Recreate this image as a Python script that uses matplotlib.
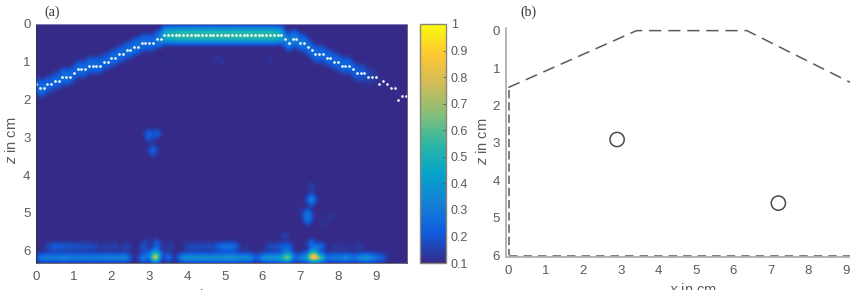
import numpy as np
import matplotlib
matplotlib.use('Agg')
import matplotlib.pyplot as plt
from matplotlib.colors import LinearSegmentedColormap
from matplotlib.patches import Circle

plt.rcParams['font.family'] = ['Liberation Sans', 'DejaVu Sans']
plt.rcParams['mathtext.fontset'] = 'custom'
plt.rcParams['mathtext.it'] = 'Liberation Sans:italic'
plt.rcParams['mathtext.rm'] = 'Liberation Sans'

W, H = 850, 290
GREY = '#5a5a5a'

# reconstruction grid, one cell per 1 mm
x_cells = [i / 10 for i in range(99)]
z_cells = [i / 10 for i in range(64)]

# detected surface depth for each column (cm)
surface_z = [1.6, 1.7, 1.7, 1.6, 1.6, 1.5, 1.5, 1.4, 1.4, 1.4,
             1.3, 1.2, 1.2, 1.2, 1.1, 1.1, 1.1, 1.1, 1.0, 1.0,
             0.9, 0.9, 0.8, 0.8, 0.7, 0.7, 0.6, 0.6, 0.5, 0.5,
             0.5, 0.5, 0.4, 0.4, 0.3, 0.3, 0.3, 0.3, 0.3, 0.3,
             0.3, 0.3, 0.3, 0.3, 0.3, 0.3, 0.3, 0.3, 0.3, 0.3,
             0.3, 0.3, 0.3, 0.3, 0.3, 0.3, 0.3, 0.3, 0.3, 0.3,
             0.3, 0.3, 0.3, 0.3, 0.3, 0.3, 0.4, 0.5, 0.4, 0.4,
             0.5, 0.5, 0.6, 0.7, 0.8, 0.8, 0.8, 0.9, 0.9, 1.0,
             1.0, 1.1, 1.1, 1.1, 1.2, 1.3, 1.3, 1.3, 1.4, 1.4,
             1.4, 1.6, 1.5, 1.6, 1.7, 1.7, 2.0, 1.9, 1.9]

# reflection strength along the surface
surface_level = [0.22, 0.28, 0.28, 0.24, 0.24, 0.25, 0.25, 0.28, 0.28, 0.26,
                 0.24, 0.26, 0.26, 0.26, 0.26, 0.26, 0.26, 0.26, 0.24, 0.24,
                 0.26, 0.26, 0.26, 0.26, 0.27, 0.27, 0.28, 0.28, 0.28, 0.27,
                 0.26, 0.26, 0.28, 0.35, 0.50, 0.52, 0.55, 0.55, 0.56, 0.56,
                 0.56, 0.57, 0.57, 0.57, 0.56, 0.56, 0.57, 0.57, 0.56, 0.56,
                 0.57, 0.56, 0.56, 0.57, 0.57, 0.56, 0.56, 0.56, 0.57, 0.57,
                 0.56, 0.56, 0.56, 0.55, 0.52, 0.50, 0.33, 0.35, 0.34, 0.32,
                 0.30, 0.30, 0.28, 0.27, 0.27, 0.26, 0.26, 0.25, 0.25, 0.25,
                 0.25, 0.25, 0.25, 0.25, 0.24, 0.22, 0.22, 0.20, 0.17, 0.15,
                 0.13, 0.11, 0.11, 0.10, 0.10, 0.10, 0.10, 0.10, 0.10]

# strong band just above the lower boundary, z = 6.2 cm
bottom_row = [0.14, 0.33, 0.35, 0.38, 0.36, 0.35, 0.36, 0.38, 0.38, 0.36,
              0.35, 0.36, 0.37, 0.36, 0.35, 0.36, 0.37, 0.36, 0.36, 0.37,
              0.37, 0.36, 0.37, 0.40, 0.38, 0.22, 0.12, 0.14, 0.36, 0.38,
              0.20, 0.80, 0.95, 0.22, 0.15, 0.32, 0.20, 0.12, 0.30, 0.42,
              0.45, 0.44, 0.42, 0.44, 0.46, 0.44, 0.42, 0.44, 0.46, 0.44,
              0.45, 0.47, 0.46, 0.44, 0.42, 0.44, 0.42, 0.40, 0.24, 0.25,
              0.42, 0.46, 0.48, 0.47, 0.48, 0.55, 0.72, 0.80, 0.35, 0.25,
              0.36, 0.42, 0.48, 1.00, 1.00, 0.78, 0.58, 0.30, 0.34, 0.36,
              0.34, 0.36, 0.42, 0.36, 0.30, 0.34, 0.42, 0.46, 0.44, 0.40,
              0.34, 0.28, 0.24, 0.14, 0.10, 0.10, 0.10, 0.10, 0.10]

# weaker echo row above it, z = 5.9 cm
upper_row = [0.10, 0.10, 0.11, 0.17, 0.22, 0.24, 0.24, 0.23, 0.22, 0.21,
             0.21, 0.20, 0.20, 0.20, 0.19, 0.19, 0.17, 0.13, 0.15, 0.18,
             0.14, 0.18, 0.12, 0.15, 0.19, 0.14, 0.10, 0.10, 0.20, 0.20,
             0.10, 0.14, 0.28, 0.14, 0.10, 0.10, 0.16, 0.10, 0.10, 0.12,
             0.17, 0.19, 0.18, 0.20, 0.17, 0.20, 0.19, 0.18, 0.24, 0.28,
             0.32, 0.32, 0.30, 0.26, 0.14, 0.10, 0.14, 0.10, 0.10, 0.10,
             0.10, 0.16, 0.20, 0.19, 0.20, 0.24, 0.26, 0.26, 0.14, 0.10,
             0.10, 0.10, 0.12, 0.28, 0.30, 0.31, 0.26, 0.12, 0.10, 0.16,
             0.12, 0.14, 0.13, 0.12, 0.12, 0.14, 0.15, 0.12, 0.10, 0.10,
             0.10, 0.10, 0.10, 0.10, 0.10, 0.10, 0.10, 0.10, 0.10]

# isolated echoes from the two inclusions, stray spots and the hot spots' shoulders
blob_x = [3.0, 3.2, 3.0, 3.1, 3.1, 7.2, 7.3, 7.3, 7.2, 7.2, 7.3, 7.8, 6.6, 7.0, 7.6,
          2.9, 2.9, 3.2, 3.2, 3.5, 3.5, 6.7, 6.7, 7.3, 7.4, 7.1, 4.8, 4.9, 6.2, 3.5,
          3.1, 3.2, 7.3, 7.4, 6.6, 6.7]
blob_z = [2.9, 2.9, 3.0, 3.3, 3.4, 5.0, 4.6, 4.7, 5.1, 5.2, 4.3, 5.1, 5.6, 4.9, 5.3,
          5.8, 6.0, 5.8, 6.0, 5.9, 6.1, 6.0, 6.1, 5.8, 5.9, 6.1, 0.9, 1.0, 1.0, 1.0,
          6.1, 6.1, 6.1, 6.1, 6.1, 6.1]
blob_value = [0.27, 0.27, 0.26, 0.25, 0.24, 0.32, 0.34, 0.35, 0.33, 0.30, 0.17, 0.14, 0.17, 0.13, 0.13,
              0.18, 0.20, 0.24, 0.24, 0.14, 0.20, 0.22, 0.24, 0.28, 0.28, 0.22, 0.14, 0.14, 0.13, 0.12,
              0.55, 0.65, 0.75, 0.75, 0.45, 0.50]

# target outline and inclusions for the sketch
outline_top_x = [0.0, 3.42, 6.36, 9.15]
outline_top_z = [1.52, 0.0, 0.0, 1.4]
outline_left_x = [0.02, 0.02]
outline_left_z = [1.6, 6.0]
outline_bottom_x = [0.02, 9.15]
outline_bottom_z = [6.02, 6.02]
circle_x = [2.9, 7.2]
circle_z = [2.91, 4.61]

xticks = list(range(10))
zticks = list(range(7))
cbar_ticks = [0.1, 0.2, 0.3, 0.4, 0.5, 0.6, 0.7, 0.8, 0.9, 1]
cbar_labels = ['0.1', '0.2', '0.3', '0.4', '0.5', '0.6', '0.7', '0.8', '0.9', '1']

parula = LinearSegmentedColormap.from_list('parula_like', [
    '#352A87', '#0F5CDD', '#1481D6', '#06A4CA', '#2EB7A4',
    '#87BF77', '#D1BB59', '#FEC832', '#F9FB0E'])


def px_axes(left, top, right, bottom):
    return fig.add_axes([left / W, 1 - bottom / H, (right - left) / W, (bottom - top) / H])


def raise_cell(heat, r, c, v):
    if 0 <= r < heat.shape[0] and 0 <= c < heat.shape[1]:
        heat[r, c] = max(heat[r, c], v)


def build_heat():
    heat = np.full((len(z_cells), len(x_cells)), 0.1)
    for col, (z, level) in enumerate(zip(surface_z, surface_level)):
        row = int(round(z * 10))
        for offset, keep in [(-2, 0.5), (-1, 0.9), (0, 1.0), (1, 0.9), (2, 0.4)]:
            raise_cell(heat, row + offset, col, 0.1 + (level - 0.1) * keep)
    heat[62, :] = bottom_row
    heat[61, :] = 0.1 + (np.array(bottom_row) - 0.1) * 0.4
    heat[63, :] = 0.1 + (np.array(bottom_row) - 0.1) * 0.2
    heat[59, :] = upper_row
    heat[58, :] = 0.1 + (np.array(upper_row) - 0.1) * 0.4
    heat[60, :] = 0.1 + (np.array(upper_row) - 0.1) * 0.4
    for x, z, v in zip(blob_x, blob_z, blob_value):
        r, c = int(round(z * 10)), int(round(x * 10))
        raise_cell(heat, r, c, v)
        for dr, dc in [(-1, 0), (1, 0), (0, -1), (0, 1)]:
            raise_cell(heat, r + dr, c + dc, 0.1 + (v - 0.1) * 0.45)
    return heat


def style_ticks(ax):
    ax.tick_params(axis='x', labelsize=9.5, colors=GREY, length=0, pad=5.5)
    ax.tick_params(axis='y', labelsize=9.5, colors=GREY, length=0, pad=4)


fig = plt.figure(figsize=(W / 100, H / 100), dpi=100)

# (a) reconstruction
ax1 = px_axes(36, 24, 407, 263)
im = ax1.imshow(build_heat(), cmap=parula, vmin=0.1, vmax=1.0, aspect='auto',
                interpolation='bicubic', extent=[-0.05, 9.85, 6.35, -0.05])
ax1.plot(x_cells, surface_z, ls='none', marker='o', ms=1.9, mfc='white', mec='none', color='white')
ax1.set_xlim(0, 9.83)
ax1.set_ylim(6.33, 0)
ax1.set_xticks(xticks)
ax1.set_yticks(zticks)
style_ticks(ax1)
for s in ax1.spines.values():
    s.set_linewidth(0.5)
    s.set_color('#303030')
ax1.spines['top'].set_color('#a9a4c8')

fig.text(12 / W, 1 - 140 / H, r'$\mathit{z}$ in cm', rotation=90, ha='center', va='center',
         fontsize=10.5, color=GREY)
fig.text(52 / W, 1 - 12 / H, '(a)', family='Liberation Serif', ha='center', va='center',
         fontsize=10, color='#333333')
fig.text(212 / W, 1 - 296 / H, r'$\mathit{x}$ in cm', ha='center', va='center',
         fontsize=10.5, color=GREY)

# colour scale
cax = px_axes(420, 24, 446, 263)
cb = fig.colorbar(im, cax=cax)
cb.set_ticks(cbar_ticks)
cb.set_ticklabels(cbar_labels)
cax.tick_params(labelsize=9, colors=GREY, length=2, width=0.6, direction='in', pad=3.5)
cb.outline.set_edgecolor('#8a8578')
cb.outline.set_linewidth(1.0)

# (b) sketch of the target
ax2 = px_axes(505.7, 28, 850, 257)
ax2.set_xlim(-0.07, 9.11)
ax2.set_ylim(6.05, -0.07)
ax2.set_xticks(xticks)
ax2.set_yticks(zticks)
style_ticks(ax2)
for name in ['top', 'right']:
    ax2.spines[name].set_visible(False)
for name in ['left', 'bottom']:
    ax2.spines[name].set_linewidth(1.3)
    ax2.spines[name].set_color('#b0b0b0')

ax2.plot(outline_top_x, outline_top_z, color=GREY, lw=1.1, dashes=(8, 4.5))
ax2.plot(outline_left_x, outline_left_z, color=GREY, lw=1.1, dashes=(5.5, 2.5))
ax2.plot(outline_bottom_x, outline_bottom_z, color=GREY, lw=1.1, dashes=(5.5, 4))
for cx, cz in zip(circle_x, circle_z):
    ax2.add_patch(Circle((cx, cz), 0.19, fill=False, ec='#4a4a4a', lw=1.1))

fig.text(482.5 / W, 1 - 141.5 / H, r'$\mathit{z}$ in cm', rotation=90, ha='center', va='center',
         fontsize=10.5, color=GREY)
fig.text(693 / W, 1 - 290 / H, r'$\mathit{x}$ in cm', ha='center', va='center',
         fontsize=10.5, color=GREY)
fig.text(528 / W, 1 - 12 / H, '(b)', family='Liberation Serif', ha='center', va='center',
         fontsize=10, color='#333333')

fig.savefig('out.png', dpi=100)
